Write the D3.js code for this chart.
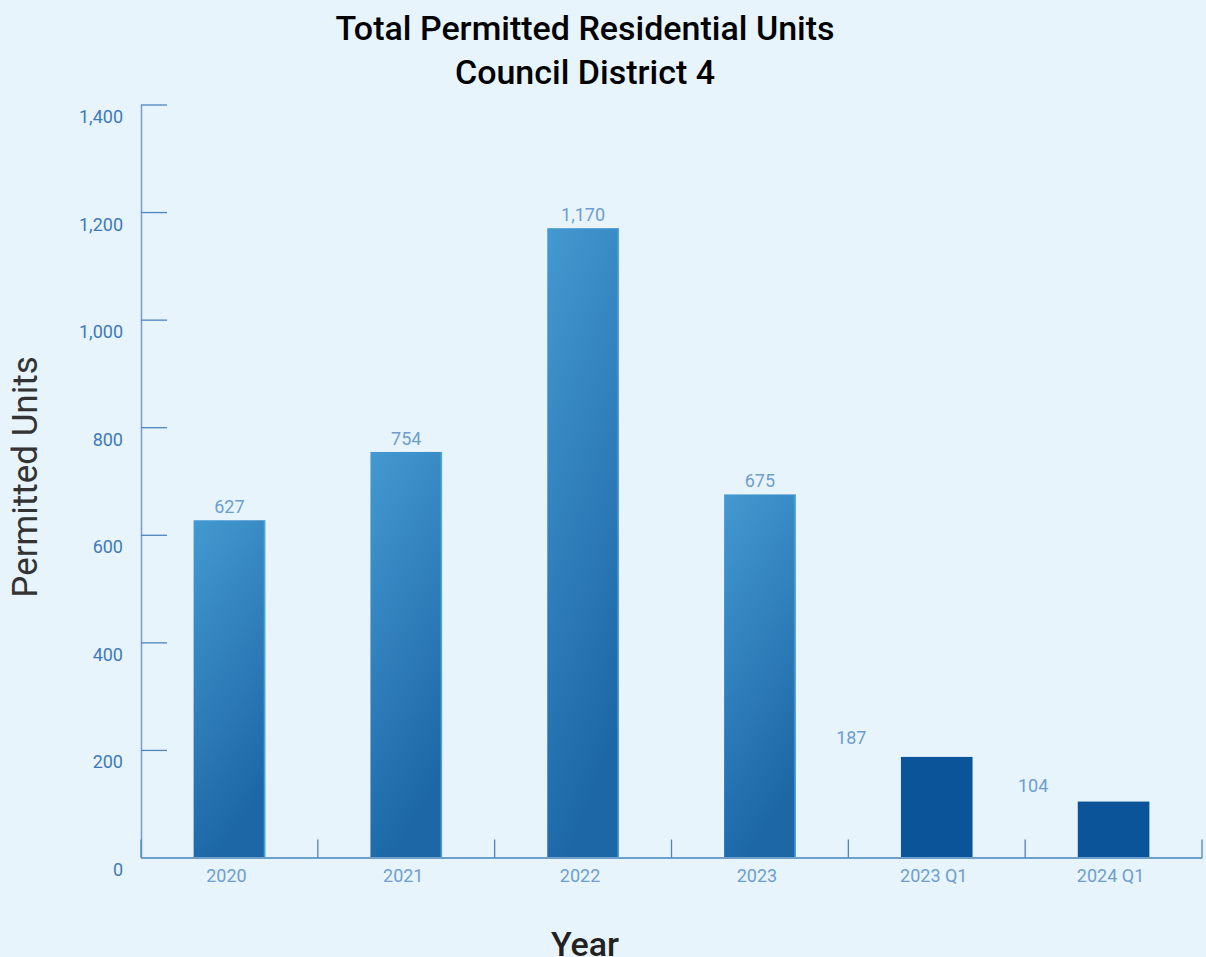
<!DOCTYPE html>
<html>
<head>
<meta charset="utf-8">
<script src="https://cdn.jsdelivr.net/npm/d3@7"></script>
<style>
  html, body { margin: 0; padding: 0; background: #e7f4fc; }
  svg { display: block; font-family: Roboto, "Noto Sans", sans-serif; }
</style>
</head>
<body>
<svg id="chart" width="1206" height="957"></svg>
<script>
// Permitted residential units, Council District 4
const categories = ["2020", "2021", "2022", "2023", "2023 Q1", "2024 Q1"];
const units = [627, 754, 1170, 675, 187, 104];
const quarterly = [false, false, false, false, true, true];
const yTicks = [0, 200, 400, 600, 800, 1000, 1200, 1400];

const svg = d3.select("#chart");
const W = 1206, H = 957;
const plotLeft = 141, plotRight = 1202, plotTop = 104.5, plotBottom = 857.5;

svg.append("rect").attr("width", W).attr("height", H).attr("fill", "#e7f4fc");

const defs = svg.append("defs");
const grad = defs.append("linearGradient")
  .attr("id", "annualFill")
  .attr("x1", 0).attr("y1", 0).attr("x2", 0.3).attr("y2", 1);
grad.append("stop").attr("offset", "0%").attr("stop-color", "#4499d0");
grad.append("stop").attr("offset", "100%").attr("stop-color", "#1d67a7");

const x = d3.scaleBand().domain(categories).range([plotLeft, plotRight]).padding(0);
const y = d3.scaleLinear().domain([0, 1400]).range([plotBottom, plotTop]);
const barW = x.bandwidth() * 0.405;

// Bars
const bars = svg.append("g");
categories.forEach((c, i) => {
  const cx = x(c) + x.bandwidth() / 2;
  const x0 = cx - barW / 2;
  bars.append("rect")
    .attr("x", x0).attr("y", y(units[i]))
    .attr("width", barW).attr("height", y(0) - y(units[i]))
    .attr("fill", quarterly[i] ? "#0b5499" : "url(#annualFill)");
  if (!quarterly[i]) {
    bars.append("rect")
      .attr("x", x0 + barW - 1.5).attr("y", y(units[i]))
      .attr("width", 1.5).attr("height", y(0) - y(units[i]))
      .attr("fill", "#5aa9dd").attr("opacity", 0.8);
  }
});

// Value labels
const labels = svg.append("g")
  .attr("font-size", 18).attr("font-weight", 400)
  .attr("fill", "#6e9ecd").attr("text-anchor", "middle");
categories.forEach((c, i) => {
  const lx = quarterly[i] ? x(c) + (i === 4 ? 3 : 8) : x(c) + x.bandwidth() / 2;
  const ly = quarterly[i] ? y(units[i]) - (i === 4 ? 12.5 : 10) : y(units[i]) - 7;
  labels.append("text").attr("x", lx).attr("y", ly).text(d3.format(",")(units[i]));
});

// Y axis: ticks point inward, labels sit below each tick
const yAxis = svg.append("g")
  .attr("transform", `translate(${plotLeft},0)`)
  .call(d3.axisRight(y).tickValues(yTicks).tickSize(26).tickSizeOuter(0).tickFormat(d3.format(",")));
yAxis.select(".domain").attr("stroke", "#6f9fcb").attr("stroke-width", 1.5);
yAxis.selectAll(".tick line").attr("stroke", "#4d85be").attr("stroke-width", 1.3);
yAxis.selectAll(".tick text")
  .attr("x", -18).attr("dy", 0).attr("y", 18)
  .attr("text-anchor", "end")
  .attr("font-size", 18).attr("font-weight", 400).attr("font-family", "Roboto")
  .attr("fill", "#3f7ab8");

// X axis
const xAxis = svg.append("g")
  .attr("transform", `translate(0,${plotBottom})`)
  .call(d3.axisBottom(x).tickSize(0).tickSizeOuter(0));
xAxis.select(".domain").attr("stroke", "#6f9fcb").attr("stroke-width", 2);
xAxis.selectAll(".tick text")
  .attr("y", 24).attr("dy", 0).attr("x", -3)
  .attr("font-size", 18).attr("font-weight", 400).attr("font-family", "Roboto")
  .attr("fill", "#6e9ecd");
const boundaries = categories.map(c => x(c)).concat([x.range()[1]]);
xAxis.selectAll(".bound").data(boundaries).join("line")
  .attr("class", "bound")
  .attr("x1", d => d).attr("x2", d => d)
  .attr("y1", -18).attr("y2", 0)
  .attr("stroke", "#4d85be").attr("stroke-width", 1.3);

// Titles
svg.append("text").attr("x", 585).attr("y", 40).attr("text-anchor", "middle")
  .attr("font-size", 34).attr("font-weight", 500).attr("fill", "#000")
  .text("Total Permitted Residential Units");
svg.append("text").attr("x", 585).attr("y", 84).attr("text-anchor", "middle")
  .attr("font-size", 34).attr("font-weight", 500).attr("fill", "#000")
  .text("Council District 4");

svg.append("text")
  .attr("transform", "translate(37,477) rotate(-90)")
  .attr("text-anchor", "middle").attr("font-size", 35).attr("font-weight", 400)
  .attr("fill", "#333")
  .text("Permitted Units");

svg.append("text").attr("x", 585).attr("y", 956).attr("text-anchor", "middle")
  .attr("font-size", 34).attr("font-weight", 500).attr("fill", "#222")
  .text("Year");
</script>
</body>
</html>
